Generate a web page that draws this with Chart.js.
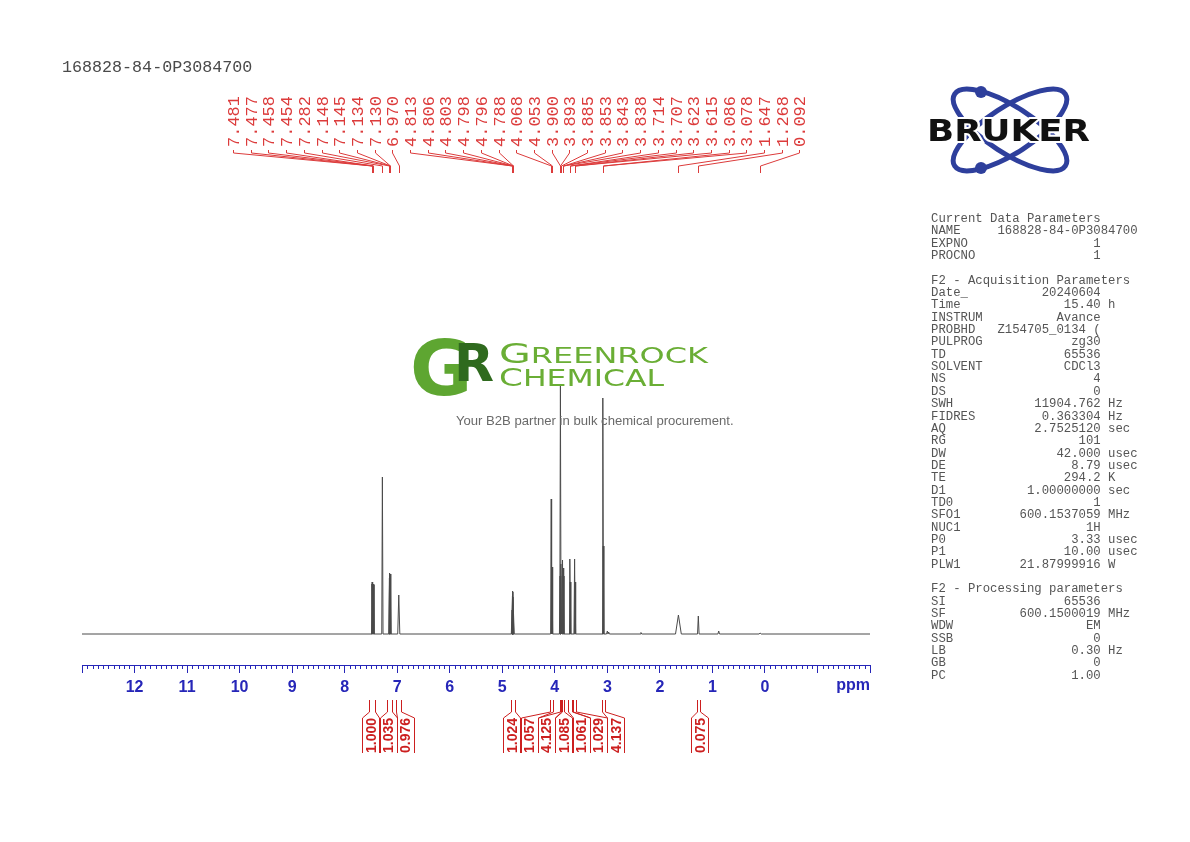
<!DOCTYPE html>
<html>
<head>
<meta charset="utf-8">
<title>168828-84-0P3084700</title>
<script src="https://cdn.jsdelivr.net/npm/chart.js@4.4.1/dist/chart.umd.min.js"></script>
<style>
  html, body { margin: 0; padding: 0; background: #fff; }
  #page { position: relative; width: 1190px; height: 842px; overflow: hidden; }
  #spectrum { position: absolute; left: 0; top: 0; }
  .mono { font-family: "Liberation Mono", "DejaVu Sans Mono", monospace; }
  #sampleId { position: absolute; left: 62px; top: 58px; font-size: 16.7px; color: #4a4a4a; white-space: pre; }
  #params { position: absolute; left: 931px; top: 213px; margin: 0; font-size: 12.3px; line-height: 12.35px; color: #555; }
  #tagline { position: absolute; left: 456px; top: 413px; font: 13.1px "Liberation Sans", Arial, sans-serif; color: #6a6a6a; white-space: nowrap; }
  #logos { position: absolute; left: 0; top: 0; pointer-events: none; }
</style>
</head>
<body>
<div id="page">
  <canvas id="spectrum" width="1190" height="842"></canvas>
  <div id="sampleId" class="mono"></div>
  <pre id="params" class="mono"></pre>
  <svg id="logos" width="1190" height="842" viewBox="0 0 1190 842">
    <!-- Bruker -->
    <g fill="none" stroke="#2e3f9c" stroke-width="5">
      <ellipse cx="1010" cy="130" rx="66" ry="23" transform="rotate(33 1010 130)"/>
      <ellipse cx="1010" cy="130" rx="66" ry="23" transform="rotate(-33 1010 130)"/>
    </g>
    <circle cx="981" cy="92" r="6" fill="#2e3f9c"/>
    <circle cx="981" cy="168" r="6" fill="#2e3f9c"/>
    <text x="927" y="141" textLength="163" lengthAdjust="spacingAndGlyphs"
          font-family="DejaVu Sans" font-weight="bold" font-size="31" fill="#111"
          stroke="#fff" stroke-width="4" paint-order="stroke">BRUKER</text>
    <!-- Greenrock -->
    <text x="410" y="395" font-family="DejaVu Sans" font-weight="bold" font-size="76" fill="#5ea631">G</text>
    <text x="454" y="381" font-family="DejaVu Sans" font-weight="bold" font-size="52" fill="#2f6a1e">R</text>
    <text x="499" y="363" textLength="209" lengthAdjust="spacingAndGlyphs"
          font-family="DejaVu Sans" fill="#6aae35"><tspan font-size="27">G</tspan><tspan font-size="21">REENROCK</tspan></text>
    <text x="499" y="386" textLength="165" lengthAdjust="spacingAndGlyphs"
          font-family="DejaVu Sans" fill="#6aae35"><tspan font-size="25">C</tspan><tspan font-size="23">HEMICAL</tspan></text>
  </svg>
  <div id="tagline">Your B2B partner in bulk chemical procurement.</div>
</div>
<script>
const sampleName = '168828-84-0P3084700';

// peak list (ppm) with heights
const peakPpm = [7.481, 7.477, 7.458, 7.454, 7.282, 7.148, 7.145, 7.134, 7.130, 6.970,
                 4.813, 4.806, 4.803, 4.798, 4.796, 4.788,
                 4.068, 4.053,
                 3.900, 3.893, 3.885, 3.853, 3.843, 3.838,
                 3.714, 3.707, 3.623, 3.615,
                 3.086, 3.078,
                 1.647, 1.268, 0.092];
const peakHeight = [50, 52, 50, 49, 157, 56, 61, 60, 57, 39,
                    24, 38, 43, 42, 37, 24,
                    135, 67,
                    58, 248, 70, 74, 66, 58,
                    75, 52, 75, 52,
                    236, 88,
                    19, 18, 1];
const peakWidth = [0.012, 0.012, 0.012, 0.012, 0.012, 0.012, 0.012, 0.012, 0.012, 0.02,
                   0.015, 0.015, 0.015, 0.015, 0.015, 0.015,
                   0.012, 0.012,
                   0.012, 0.012, 0.012, 0.012, 0.012, 0.012,
                   0.012, 0.012, 0.012, 0.012,
                   0.012, 0.012,
                   0.055, 0.015, 0.02];

// small unlabelled signals
const minorPpm = [3.000, 2.975, 2.360, 0.880];
const minorHeight = [3, 2, 1.5, 3];

// integrals
const integralFrom = [7.53, 7.19, 7.02, 4.84, 4.09, 3.91, 3.87, 3.74, 3.65, 3.11, 1.30];
const integralTo = [7.43, 7.10, 6.92, 4.76, 4.03, 3.875, 3.82, 3.68, 3.59, 3.05, 1.23];
const integralValue = ['1.000', '1.035', '0.976', '1.024', '1.057', '4.125', '1.085', '1.061', '1.029', '4.137', '0.075'];

const axisLabels = [12, 11, 10, 9, 8, 7, 6, 5, 4, 3, 2, 1, 0];
const ppmLow = -2, ppmHigh = 13;

const currentParams = [['NAME', sampleName], ['EXPNO', '1'], ['PROCNO', '1']];
const acquisitionParams = [
  ['Date_', '20240604'], ['Time', '15.40', 'h'], ['INSTRUM', 'Avance'], ['PROBHD', 'Z154705_0134 ('],
  ['PULPROG', 'zg30'], ['TD', '65536'], ['SOLVENT', 'CDCl3'], ['NS', '4'], ['DS', '0'],
  ['SWH', '11904.762', 'Hz'], ['FIDRES', '0.363304', 'Hz'], ['AQ', '2.7525120', 'sec'], ['RG', '101'],
  ['DW', '42.000', 'usec'], ['DE', '8.79', 'usec'], ['TE', '294.2', 'K'], ['D1', '1.00000000', 'sec'],
  ['TD0', '1'], ['SFO1', '600.1537059', 'MHz'], ['NUC1', '1H'], ['P0', '3.33', 'usec'],
  ['P1', '10.00', 'usec'], ['PLW1', '21.87999916', 'W']
];
const processingParams = [
  ['SI', '65536'], ['SF', '600.1500019', 'MHz'], ['WDW', 'EM'], ['SSB', '0'],
  ['LB', '0.30', 'Hz'], ['GB', '0'], ['PC', '1.00']
];

const BLUE = '#2626b8';
const RED = '#dc3b3b';

document.getElementById('sampleId').textContent = sampleName;

const paramLine = ([label, value, unit]) => label.padEnd(9) + value.padStart(14) + (unit ? ' ' + unit : '');
document.getElementById('params').textContent = [
  'Current Data Parameters', ...currentParams.map(paramLine), '',
  'F2 - Acquisition Parameters', ...acquisitionParams.map(paramLine), '',
  'F2 - Processing parameters', ...processingParams.map(paramLine)
].join('\n');

// spectrum trace: each signal drawn as a narrow spike on the baseline
const signals = peakPpm.map((p, i) => ({ p, h: peakHeight[i], w: peakWidth[i] }))
  .concat(minorPpm.map((p, i) => ({ p, h: minorHeight[i], w: 0.015 })))
  .sort((a, b) => b.p - a.p);
const trace = [{ x: ppmHigh, y: 0 }];
signals.forEach(s => {
  trace.push({ x: s.p + s.w, y: 0 }, { x: s.p, y: s.h }, { x: s.p - s.w, y: 0 });
});
trace.push({ x: ppmLow, y: 0 });

// spread labels so they do not overlap, each group centred on its members
function spreadLabels(centers, gap) {
  let groups = centers.map((c, i) => ({ idx: [i], mean: c }));
  let merged = true;
  while (merged) {
    merged = false;
    for (let g = 0; g < groups.length - 1; g++) {
      const a = groups[g], b = groups[g + 1];
      const aRight = a.mean + a.idx.length * gap / 2;
      const bLeft = b.mean - b.idx.length * gap / 2;
      if (aRight > bLeft) {
        const idx = a.idx.concat(b.idx);
        const mean = idx.reduce((s, i) => s + centers[i], 0) / idx.length;
        groups.splice(g, 2, { idx, mean });
        merged = true;
        break;
      }
    }
  }
  const out = [];
  groups.forEach(g => g.idx.forEach((i, k) => {
    out[i] = g.mean + (k - (g.idx.length - 1) / 2) * gap;
  }));
  return out;
}

const crisp = v => Math.round(v) + 0.5;

const nmrDecor = {
  id: 'nmrDecor',
  afterDraw(chart) {
    const ctx = chart.ctx;
    const xs = chart.scales.x;
    const area = chart.chartArea;
    ctx.save();

    // minor ticks every 0.1 ppm
    ctx.strokeStyle = BLUE;
    ctx.lineWidth = 1;
    ctx.beginPath();
    for (let i = ppmLow * 10; i <= ppmHigh * 10; i++) {
      if (i % 10 === 0) continue;
      const px = crisp(xs.getPixelForValue(i / 10));
      ctx.moveTo(px, area.bottom);
      ctx.lineTo(px, area.bottom + 4);
    }
    ctx.stroke();

    ctx.fillStyle = BLUE;
    ctx.font = 'bold 16px "Liberation Sans", Arial, sans-serif';
    ctx.textAlign = 'right';
    ctx.textBaseline = 'middle';
    ctx.fillText('ppm', area.right, area.bottom + 21);

    // peak picking labels
    const labelGap = 17.7;
    const labelStart = area.left + 151;
    const top = area.top;
    ctx.strokeStyle = RED;
    ctx.fillStyle = RED;
    ctx.font = '17px "Liberation Mono", monospace';
    ctx.textAlign = 'left';
    peakPpm.forEach((p, i) => {
      const lx = crisp(labelStart + i * labelGap);
      const px = crisp(xs.getPixelForValue(p));
      ctx.beginPath();
      ctx.moveTo(lx, top - 30);
      ctx.lineTo(lx, top - 27);
      ctx.lineTo(px, top - 14);
      ctx.lineTo(px, top - 7);
      ctx.stroke();
      ctx.save();
      ctx.translate(lx + 1, top - 33);
      ctx.rotate(-Math.PI / 2);
      ctx.fillText(p.toFixed(3), 0, 0);
      ctx.restore();
    });

    // integrals
    const b = area.bottom;
    const centers = integralFrom.map((f, i) => (xs.getPixelForValue(f) + xs.getPixelForValue(integralTo[i])) / 2);
    const pos = spreadLabels(centers, 17.3);
    ctx.font = 'bold 14px "Liberation Sans", Arial, sans-serif';
    ctx.fillStyle = '#cc1f1f';
    ctx.strokeStyle = '#cc1f1f';
    integralFrom.forEach((f, i) => {
      const e1 = crisp(xs.getPixelForValue(f));
      const e2 = crisp(xs.getPixelForValue(integralTo[i]));
      const c = pos[i] + 1.5;
      ctx.beginPath();
      ctx.moveTo(e1, b + 35); ctx.lineTo(e1, b + 47);
      ctx.lineTo(crisp(c - 8.5), b + 53); ctx.lineTo(crisp(c - 8.5), b + 88);
      ctx.moveTo(e2, b + 35); ctx.lineTo(e2, b + 47);
      ctx.lineTo(crisp(c + 8.5), b + 53); ctx.lineTo(crisp(c + 8.5), b + 88);
      ctx.stroke();
      ctx.save();
      ctx.translate(c + 1, b + 88);
      ctx.rotate(-Math.PI / 2);
      ctx.fillText(integralValue[i], 0, 0);
      ctx.restore();
    });

    ctx.restore();
  }
};

new Chart(document.getElementById('spectrum'), {
  type: 'scatter',
  data: {
    datasets: [{
      data: trace,
      showLine: true,
      borderColor: '#4a4a4a',
      borderWidth: 1,
      borderJoinStyle: 'bevel',
      pointRadius: 0,
      pointHoverRadius: 0
    }]
  },
  options: {
    responsive: false,
    animation: false,
    events: [],
    layout: { padding: { left: 82, right: 320, top: 180, bottom: 137 } },
    plugins: { legend: { display: false }, tooltip: { enabled: false } },
    scales: {
      x: {
        type: 'linear',
        reverse: true,
        min: ppmLow,
        max: ppmHigh,
        afterFit: s => { s.height = 40; },
        border: { display: true, color: BLUE, width: 1 },
        grid: { drawOnChartArea: false, drawTicks: true, tickLength: 8, color: BLUE },
        ticks: {
          stepSize: 1,
          autoSkip: false,
          maxRotation: 0,
          padding: 5,
          color: BLUE,
          font: { family: '"Liberation Sans", Arial, sans-serif', size: 16, weight: 'bold' },
          callback: v => axisLabels.includes(v) ? String(v) : ''
        }
      },
      y: {
        display: false,
        min: -31,
        max: 454
      }
    }
  },
  plugins: [nmrDecor]
});
</script>
</body>
</html>
